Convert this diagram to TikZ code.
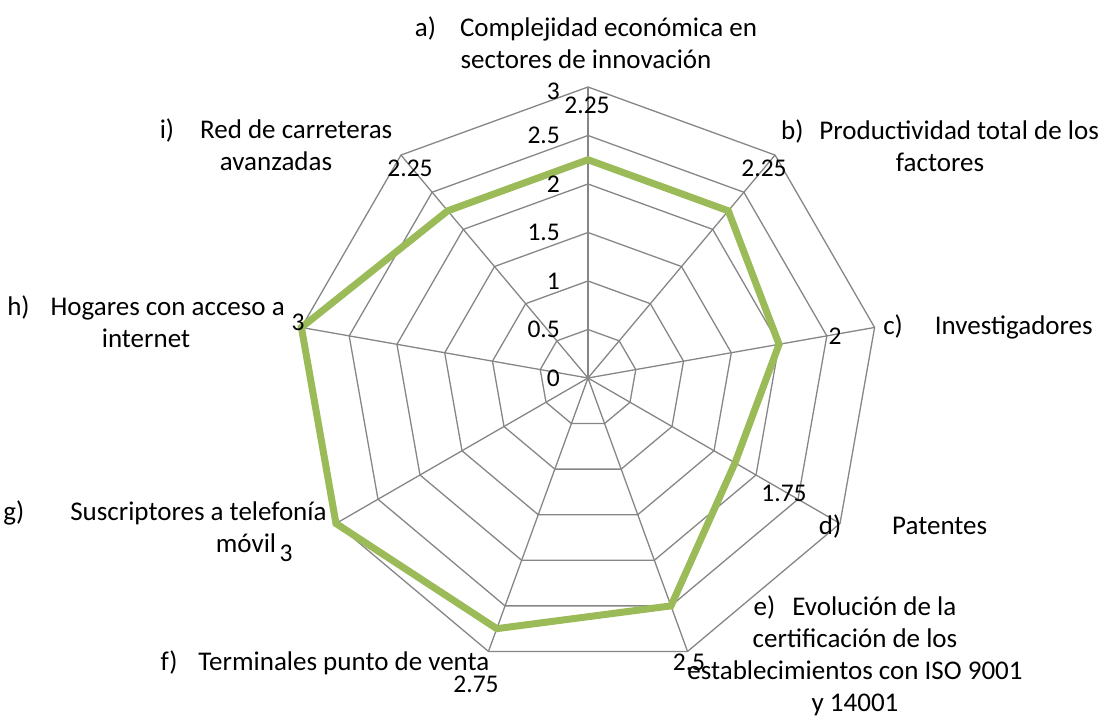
\documentclass[tikz,border=0pt]{standalone}
\usepackage{fontspec}
\setmainfont{Carlito}
\definecolor{rejilla}{HTML}{868686}
\definecolor{verde}{HTML}{9BBB59}
\begin{document}
\begin{tikzpicture}[x=1pt, y=1pt, line join=miter,
	eje/.style={draw=rejilla, line width=1.3pt},
	serie/.style={draw=verde, line width=7pt},
	valor/.style={inner sep=0pt, font=\fontsize{25.5}{30}\selectfont},
	categoria/.style={inner sep=0pt, align=center, anchor=base, font=\fontsize{27}{32}\selectfont}]
	\useasboundingbox (0,0) rectangle (1102,719);
	% Centro del radar
	\coordinate (O) at (588,341);
	\begin{scope}[shift={(O)}]
	% Anillos de la rejilla (0.5 = 48.5)
	\foreach \k in {1,...,6}
		\draw[eje] (90:\k*48.5) \foreach \i in {1,...,8}{ -- (90-40*\i:\k*48.5)} -- cycle;
	% Ejes
	\foreach \i in {0,...,8}{
		\coordinate (v\i) at (90-40*\i:291);
		\draw[eje] (0,0) -- (v\i);
	}
	% Serie de datos
	\foreach \v [count=\i from 0] in {2.25,2.25,2,1.75,2.5,2.75,3,3,2.25}
		\coordinate (p\i) at (90-40*\i:\v*97);
	\draw[serie] (p0) -- (p1) -- (p2) -- (p3) -- (p4) -- (p5) -- (p6) -- (p7) -- (p8) -- cycle;
	\end{scope}
	% Etiquetas del eje
	\foreach \t [count=\k from 0] in {0,0.5,1,1.5,2,2.5}
		\node[valor, anchor=east] (e\k) at (560,341+\k*48.5) {\t};
	\node[valor, anchor=east] (e6) at (560,628) {3};
	% Etiquetas de datos
	\node[valor] (da) at (587,614) {2.25};
	\node[valor] (db) at (764,551) {2.25};
	\node[valor] (dc) at (835,383) {2};
	\node[valor] (dd) at (784,226) {1.75};
	\node[valor] (de) at (689,57) {2.5};
	\node[valor] (df) at (476,35) {2.75};
	\node[valor] (dg) at (286,166) {3};
	\node[valor] (dh) at (298,397) {3};
	\node[valor] (di) at (410,551) {2.25};
	% Categorias (anchor base = ultima linea)
	\node[categoria] (ca) at (586,650) {a)\hspace{24pt}Complejidad económica en\\sectores de innovación};
	\node[categoria] (cb) at (940,547) {b)\hspace{16pt}Productividad total de los\\factores};
	\node[categoria] (cc) at (988,384) {c)\hspace{32pt}Investigadores};
	\node[categoria] (cd) at (903,184) {d)\hspace{51pt}Patentes};
	\node[categoria] (ce) at (855,7) {e)\hspace{17pt}Evolución de la\\certificación de los\\establecimientos con ISO 9001\\y 14001};
	\node[categoria] (cf) at (325,48) {f)\hspace{21pt}Terminales punto de venta};
	\node[categoria] (cg) at (165,166) {g)\hspace{46pt}Suscriptores a telefonía\\\hspace*{162pt}móvil};
	\node[categoria] (ch) at (146,371) {h)\hspace{21pt}Hogares con acceso a\\internet};
	\node[categoria] (ci) at (276,548) {i)\hspace{26pt}Red de carreteras\\avanzadas};
\end{tikzpicture}
\end{document}
